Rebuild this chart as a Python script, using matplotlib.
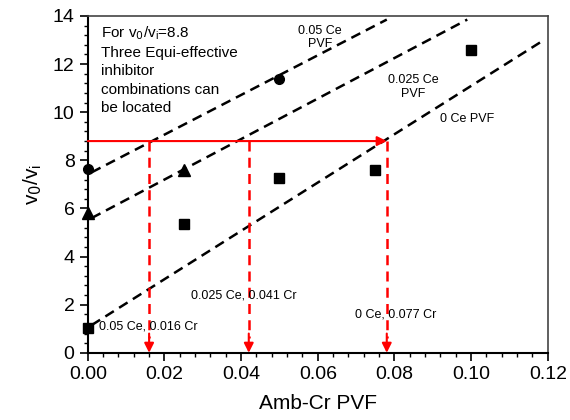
import matplotlib.pyplot as plt

plt.rcParams['font.family'] = ['Liberation Sans', 'DejaVu Sans']

# measured points
circ_x = [0.0, 0.05]
circ_y = [7.65, 11.4]
tri_x = [0.0, 0.025]
tri_y = [5.8, 7.6]
sq_x = [0.0, 0.025, 0.05, 0.075, 0.1]
sq_y = [1.05, 5.35, 7.25, 7.6, 12.6]

# dashed trend lines (start, end)
line_x = [[0.001, 0.078], [0.001, 0.099], [0.001, 0.118]]
line_y = [[7.5, 13.85], [5.6, 13.85], [1.15, 12.9]]

target = 8.8
cr_vals = [0.016, 0.042, 0.078]
cr_labels = ['0.05 Ce, 0.016 Cr', '0.025 Ce, 0.041 Cr', '0 Ce, 0.077 Cr']

fig = plt.figure(figsize=(5.7, 4.2), dpi=100)
ax = fig.add_axes([0.154, 0.16, 0.807, 0.802])

for lx, ly in zip(line_x, line_y):
    ax.plot(lx, ly, color='black', ls=(0, (4, 2.5)), lw=1.8, zorder=2)

ax.plot(circ_x, circ_y, 'o', color='black', ms=7, clip_on=False, zorder=4)
ax.plot(tri_x, tri_y, '^', color='black', ms=8, clip_on=False, zorder=4)
ax.plot(sq_x, sq_y, 's', color='black', ms=6.5, clip_on=False, zorder=4)

# red horizontal arrow
ax.annotate('', xy=(cr_vals[-1], target), xytext=(0, target),
            arrowprops=dict(arrowstyle='-|>', color='red', lw=1.5,
                            mutation_scale=14, shrinkA=0, shrinkB=0), zorder=3)
# red vertical dashed arrows
for x in cr_vals:
    ax.plot([x, x], [target, 0.6], color='red', ls=(0, (4, 2.5)), lw=1.8, zorder=3)
    ax.annotate('', xy=(x, 0), xytext=(x, 0.8),
                arrowprops=dict(arrowstyle='-|>', color='red', lw=1.5,
                                mutation_scale=14, shrinkA=0, shrinkB=0), zorder=3)

ax.text(0.0034, 13.65, 'For v$_0$/v$_\\mathregular{i}$=8.8\nThree Equi-effective\ninhibitor\ncombinations can\nbe located',
        fontsize=11, va='top', ha='left', linespacing=1.38)
ax.text(0.0605, 13.1, '0.05 Ce\nPVF', fontsize=9, ha='center', va='center', linespacing=1.15)
ax.text(0.0848, 11.05, '0.025 Ce\nPVF', fontsize=9, ha='center', va='center', linespacing=1.15)
ax.text(0.0989, 9.7, '0 Ce PVF', fontsize=9, ha='center', va='center')
ax.text(0.003, 1.1, cr_labels[0], fontsize=9, ha='left', va='center')
ax.text(0.0268, 2.4, cr_labels[1], fontsize=9, ha='left', va='center')
ax.text(0.0697, 1.6, cr_labels[2], fontsize=9, ha='left', va='center')

ax.set_xlim(0, 0.12)
ax.set_ylim(0, 14)
ax.set_xticks([0, 0.02, 0.04, 0.06, 0.08, 0.10, 0.12])
ax.set_xticklabels(['0.00', '0.02', '0.04', '0.06', '0.08', '0.10', '0.12'])
ax.set_xticks([i * 0.004 for i in range(31)], minor=True)
ax.set_yticks(range(0, 15, 2))
ax.set_yticks([i * 0.4 for i in range(36)], minor=True)
ax.tick_params(axis='both', which='major', direction='out', length=6, width=1.2,
               labelsize=14, top=False, right=False)
ax.tick_params(axis='both', which='minor', direction='out', length=3, width=1,
               top=False, right=False)
for s in ['left', 'bottom']:
    ax.spines[s].set_linewidth(1.5)
for s in ['top', 'right']:
    ax.spines[s].set_linewidth(1.2)
    ax.spines[s].set_color('#444444')

ax.set_xlabel('Amb-Cr PVF', fontsize=15, labelpad=8)
ax.set_ylabel('v$_0$/v$_\\mathregular{i}$', fontsize=15, labelpad=6)

fig.savefig('out.png', dpi=100)
